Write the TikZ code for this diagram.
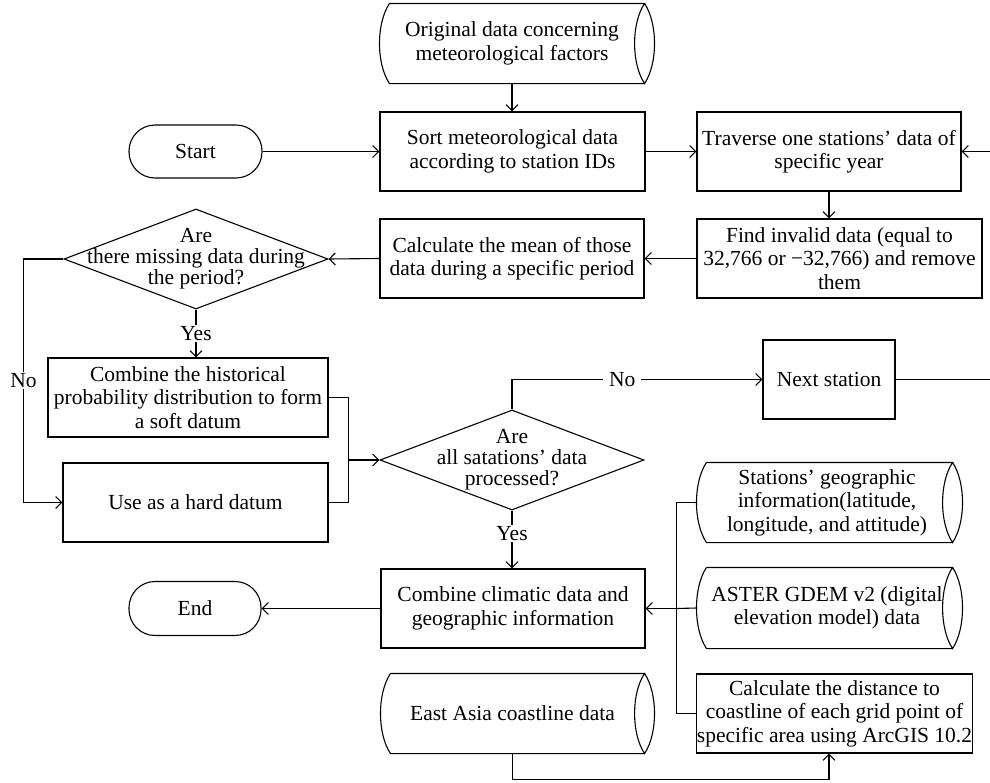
\documentclass[tikz,border=0pt]{standalone}
\usepackage{fontspec}
\setmainfont{Liberation Serif}
\usetikzlibrary{arrows.meta,calc,shapes.geometric}
\newcommand\cylpath[1]{%
  \draw ($(#1.north west)+(10,0)$) -- (#1.north east)
     .. controls +(-13.3,20) and +(-13.3,-20) .. (#1.south east)
     .. controls +(13.3,-20) and +(13.3,20) .. (#1.north east);
  \draw (#1.south east) -- ($(#1.south west)+(10,0)$)
     .. controls +(-13.3,-20) and +(-13.3,20) .. ($(#1.north west)+(10,0)$);
}
\begin{document}
\begin{tikzpicture}[x=1pt,y=-1pt,line width=1.1pt,
  every node/.style={font=\fontsize{21.5}{23.5}\selectfont,align=center,inner sep=0pt},
  box/.style={draw,rectangle,minimum height=79pt},
  stad/.style={draw,rectangle,rounded corners=26pt},
  cyl/.style={rectangle,minimum height=79pt},
  cyltext/.style={align=center,xshift=2.5pt},
  dia/.style={draw,diamond,minimum width=264pt,minimum height=100pt,inner sep=0pt},
  dtext/.style={font=\fontsize{21.5}{21}\selectfont,align=center},
  lbl/.style={fill=white,inner xsep=6pt,inner ysep=1.5pt},
  arr/.style={-{Straight Barb[length=6pt,width=12pt]}}]
\useasboundingbox (0,0) rectangle (990,782);

% nodes
\node[cyl,minimum width=264pt] (od) at (512,43.5) {Original data concerning\\meteorological factors};
\cylpath{od}
\node[stad,minimum width=133pt,minimum height=53pt] (start) at (195.5,151.5) {Start};
\node[box,minimum width=265pt] (sort) at (512.5,151.5) {Sort meteorological data\\according to station IDs};
\node[box,minimum width=264pt] (tr) at (829,151.5) {Traverse one stations’ data of\\specific year};
\node[box,minimum width=285pt] (fi) at (839.5,258.5) {Find invalid data (equal to\\32,766 or −32,766) and remove\\them};
\node[box,minimum width=264pt] (cm) at (512,258.5) {Calculate the mean of those\\data during a specific period};
\node[dia,label={[dtext]center:{Are\\there missing data during\\the period?}}] (d1) at (196,259) {};
\node[box,minimum width=280pt] (ch) at (188,397.5) {Combine the historical\\probability distribution to form\\a soft datum};
\node[box,minimum width=265pt] (use) at (195.5,502.5) {Use as a hard datum};
\node[dia,label={[dtext]center:{Are\\all satations’ data\\processed?}}] (d2) at (512,460) {};
\node[box,minimum width=132pt] (ns) at (829,379.5) {Next station};
\node[box,minimum width=264pt] (cc) at (513,608.5) {Combine climatic data and\\geographic information};
\node[stad,minimum width=132pt,minimum height=54pt] (end) at (195,608.5) {End};
\node[cyl,minimum width=255pt,label={[cyltext]center:{Stations’ geographic\\information(latitude,\\longitude, and attitude)}}] (sg) at (824.5,502.5) {};
\cylpath{sg}
\node[cyl,minimum width=255pt,minimum height=80pt,label={[cyltext]center:{ASTER GDEM v2 (digital\\elevation model) data}}] (as) at (824.5,608) {};
\cylpath{as}
\node[box,minimum width=275pt] (cd) at (834.5,713.5) {Calculate the distance to\\coastline of each grid point of\\specific area using ArcGIS 10.2};
\node[cyl,minimum width=263pt] (ea) at (512.5,713.5) {East Asia coastline data};
\cylpath{ea}

\coordinate (e1) at (989.5,151.5);
\coordinate (e2) at (989.5,379.5);

% connectors
\draw[arr] (od.south) -- (od.south |- sort.north);
\draw[arr] (start.east) -- (sort.west);
\draw[arr] (sort.east) -- (tr.west);
\draw[arr] (e1) -- (tr.east);
\draw[arr] (tr.south) -- (tr.south |- fi.north);
\draw[arr] (fi.west) -- (fi.west -| cm.east);
\draw[arr] (cm.west) -- (d1.east);
\draw[arr] (d1.south) -- node[lbl]{Yes} (d1.south |- ch.north);
\draw[arr] (d1.west) -- ++(-40,0) |- node[lbl,pos=0.25]{No} (use.west);
\draw (ch.east) -- ++(20,0) coordinate (j1) |- (use.east);
\draw[arr] (j1 |- d2.west) -- (d2.west);
\draw[arr] (d2.north) |- node[lbl,pos=0.72]{No} (ns.west);
\draw (ns.east) -- (e2);
\draw[arr] (d2.south) -- node[lbl,pos=0.4]{Yes} (d2.south |- cc.north);
\draw[arr] (cc.west) -- (end.east);
\draw (sg.west) -- ++(-20,0) coordinate (b1) |- (cd.west);
\draw (b1 |- cc.east) -- (as.west);
\draw[arr] (b1 |- cc.east) -- (cc.east);
\draw[arr] (ea.south) -- ++(0,26) -| ([xshift=-5.5pt]cd.south);
\end{tikzpicture}
\end{document}
